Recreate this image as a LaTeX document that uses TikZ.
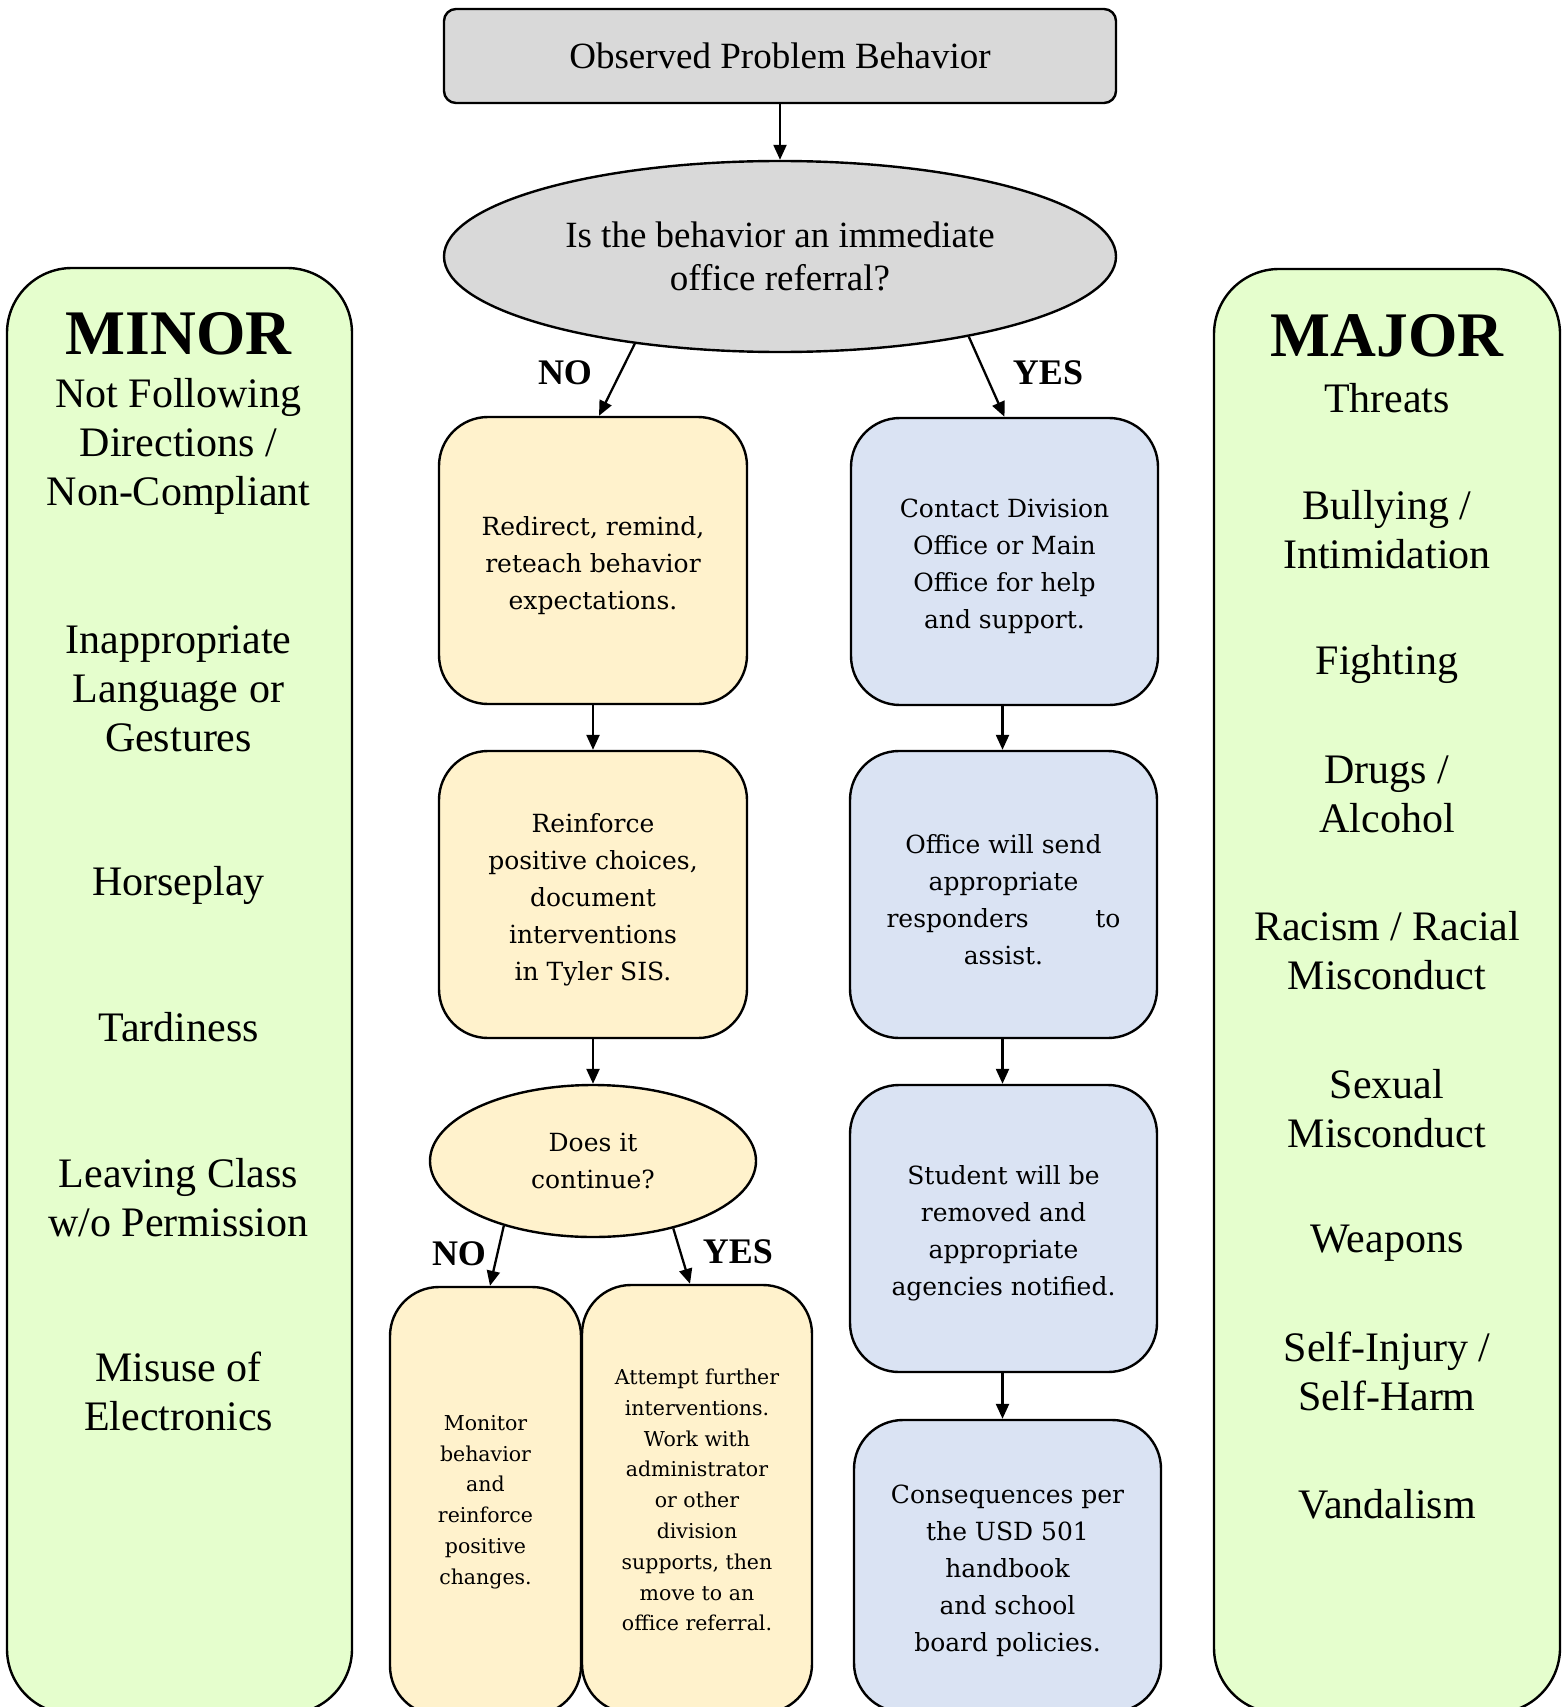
\documentclass[tikz,border=0pt]{standalone}
\usepackage{fontspec}
\newfontfamily\tnr{Liberation Serif}
\newfontfamily\dvs{DejaVu Serif}
\usetikzlibrary{shapes.geometric,arrows.meta}
\definecolor{gfill}{RGB}{217,217,217}
\definecolor{yfill}{RGB}{255,242,204}
\definecolor{bfill}{RGB}{218,227,243}
\definecolor{pfill}{RGB}{229,254,205}
\begin{document}
\begin{tikzpicture}[x=1pt,y=-1pt,
  shp/.style={draw, line width=2.4pt, inner sep=0pt, align=center},
  topbox/.style={shp, fill=gfill, rounded corners=12pt, minimum width=672pt, minimum height=94pt},
  qell/.style={shp, ellipse},
  ybox/.style={shp, fill=yfill, rounded corners=49pt},
  bbox/.style={shp, fill=bfill, rounded corners=49pt},
  panel/.style={shp, fill=pfill, rounded corners=65pt},
  arr/.style={line width=2.3pt, -{Triangle[length=15pt,width=13pt]}},
  tt/.style={font=\tnr\fontsize{37}{43.5}\selectfont, align=center},
  lst/.style={font=\tnr\fontsize{42}{49}\selectfont, align=center},
  ttl/.style={font=\tnr\bfseries\fontsize{63.5}{70}\selectfont},
  lbl/.style={font=\tnr\bfseries\fontsize{36}{40}\selectfont},
  bt/.style={font=\dvs\fontsize{25}{37}\selectfont, align=center},
  st/.style={font=\dvs\fontsize{20.5}{30.8}\selectfont, align=center},
  btxt/.style={label={[bt, yshift=-5pt]center:{#1}}},
  stxt/.style={label={[st, yshift=-1pt]center:{#1}}}]
\useasboundingbox (0,0) rectangle (1564,1707);
\clip (0,0) rectangle (1564,1707);

% side panels
\node[panel, minimum width=345pt, minimum height=1446pt] (minor) at (179.5,991) {};
\node[panel, minimum width=346pt, minimum height=1444pt] (major) at (1387,991) {};

\node[ttl] (minorT) at (178.5,334) {MINOR};
\node[lst] (m1) at (178.5,446) {Not Following\\Directions /\\Non-Compliant};
\node[lst] (m2) at (178.5,689) {Inappropriate\\Language or\\Gestures};
\node[lst] (m3) at (178.5,885) {Horseplay};
\node[lst] (m4) at (178.5,1027) {Tardiness};
\node[lst] (m5) at (178.5,1198) {Leaving Class\\w/o Permission};
\node[lst] (m6) at (178.5,1391.5) {Misuse of\\Electronics};

\node[ttl] (majorT) at (1387,336) {MAJOR};
\node[lst] (j1) at (1387,398) {Threats};
\node[lst] (j2) at (1387,530) {Bullying /\\Intimidation};
\node[lst] (j3) at (1387,664) {Fighting};
\node[lst] (j4) at (1387,794) {Drugs /\\Alcohol};
\node[lst] (j5) at (1387,950.5) {Racism / Racial\\Misconduct};
\node[lst] (j6) at (1387,1108.5) {Sexual\\Misconduct};
\node[lst] (j7) at (1387,1243) {Weapons};
\node[lst] (j8) at (1387,1371.5) {Self-Injury /\\Self-Harm};
\node[lst] (j9) at (1387,1504) {Vandalism};

% top
\node[topbox, tt] (top) at (780,56) {Observed Problem Behavior};
\node[qell, fill=gfill, minimum width=672pt, minimum height=191pt, tt] (q1) at (780,256.5) {Is the behavior an immediate\\office referral?};

% left column
\node[ybox, minimum width=308pt, minimum height=287pt, btxt={Redirect, remind,\\reteach behavior\\expectations.}] (redirect) at (593,560.5) {};
\node[ybox, minimum width=308pt, minimum height=287pt, btxt={Reinforce\\positive choices,\\document\\interventions\\in Tyler SIS.}] (reinforce) at (593,894.5) {};
\node[qell, fill=yfill, minimum width=326pt, minimum height=152pt, bt] (q2) at (593,1161) {Does it\\continue?};
\node[ybox, minimum width=191pt, minimum height=428pt, stxt={Monitor\\behavior\\and\\reinforce\\positive\\changes.}] (monitor) at (485.5,1501) {};
\node[ybox, minimum width=230pt, minimum height=428pt, stxt={Attempt further\\interventions.\\Work with\\administrator\\or other\\division\\supports, then\\move to an\\office referral.}] (attempt) at (697,1499) {};

% right column
\node[bbox, minimum width=307pt, minimum height=287pt, btxt={Contact Division\\Office or Main\\Office for help\\and support.}] (contact) at (1004.5,561.5) {};
\node[bbox, minimum width=307pt, minimum height=287pt, btxt={Office will send\\appropriate\\\makebox[234pt]{responders\hfill to}\\assist.}] (office) at (1003.5,894.5) {};
\node[bbox, minimum width=307pt, minimum height=287pt, btxt={Student will be\\removed and\\appropriate\\agencies notified.}] (student) at (1003.5,1228.5) {};
\node[bbox, minimum width=307pt, minimum height=292pt, btxt={Consequences per\\the USD 501\\handbook\\and school\\board policies.}] (conseq) at (1007.5,1566) {};

% connectors
\draw[arr] (top.south) -- (q1.north);
\draw[arr] (q1.211) -- ([xshift=6pt]redirect.north);
\draw[arr] (q1.337) -- (contact.north);
\draw[arr] (redirect.south) -- (reinforce.north);
\draw[arr] (reinforce.south) -- (q2.north);
\draw[arr] (q2.216) -- ([xshift=4.5pt]monitor.north);
\draw[arr] (q2.320) -- ([xshift=-7pt]attempt.north);
\draw[arr] ([xshift=-2pt]contact.south) -- ([xshift=-2pt]contact.south |- office.north);
\draw[arr] ([xshift=-1pt]office.south) -- ([xshift=-1pt]office.south |- student.north);
\draw[arr] ([xshift=-1pt]student.south) -- ([xshift=-1pt]student.south |- conseq.north);

% labels
\node[lbl] (no1) at (565,373) {NO};
\node[lbl] (yes1) at (1048,373) {YES};
\node[lbl] (no2) at (459,1254) {NO};
\node[lbl] (yes2) at (738,1252) {YES};
\end{tikzpicture}
\end{document}
